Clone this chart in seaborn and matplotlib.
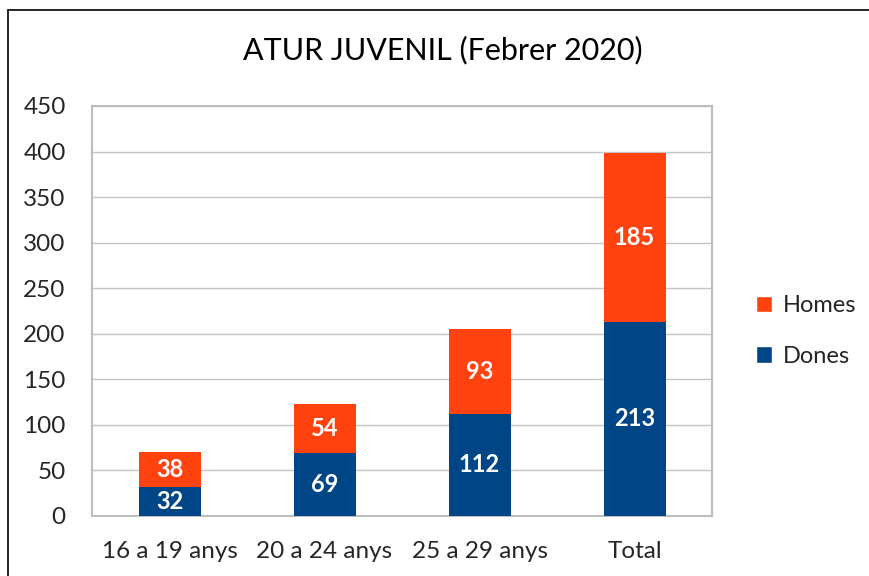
import matplotlib
matplotlib.use("Agg")
import matplotlib.pyplot as plt
import seaborn as sns
import pandas as pd
from matplotlib.patches import Patch
from matplotlib.lines import Line2D

# Youth unemployment, February 2020
categories = ["16 a 19 anys", "20 a 24 anys", "25 a 29 anys", "Total"]
dones = [32, 69, 112, 213]
homes = [38, 54, 93, 185]
yticks = [0, 50, 100, 150, 200, 250, 300, 350, 400, 450]

BLUE = "#004586"
ORANGE = "#ff420e"

sns.set_theme(style="white")
plt.rcParams["font.family"] = ["Lato", "DejaVu Sans"]

df = pd.DataFrame({"cat": categories, "Dones": dones, "Homes": homes})
df["top"] = df["Dones"] + df["Homes"]

fig = plt.figure(figsize=(8.69, 5.76), dpi=100)
ax = fig.add_axes([0.1059, 0.1042, 0.7135, 0.7118])

# stacked bars: full height in orange, women's share in blue on top of it
sns.barplot(data=df, x="cat", y="top", color=ORANGE, width=0.4,
            saturation=1, linewidth=0, ax=ax, zorder=3)
sns.barplot(data=df, x="cat", y="Dones", color=BLUE, width=0.4,
            saturation=1, linewidth=0, ax=ax, zorder=4)

ax.set_ylim(0, 450)
ax.set_xlim(-0.5, 3.5)
ax.set_yticks(yticks)
ax.set_yticklabels([str(v) for v in yticks], fontsize=17.5)
ax.tick_params(axis="x", labelsize=17.5, pad=18, length=0)
ax.tick_params(axis="y", pad=19, length=0)
ax.set_xlabel("")
ax.set_ylabel("")
ax.yaxis.grid(True, color="#c4c4c4", linewidth=1)
ax.set_axisbelow(True)
for s in ax.spines.values():
    s.set_visible(True)
    s.set_color("#bdbdbd")
    s.set_linewidth(1.5)

for i, (d, h) in enumerate(zip(dones, homes)):
    ax.text(i, d / 2, str(d), ha="center", va="center", color="white",
            fontsize=17, fontweight="bold", zorder=5)
    ax.text(i, d + h / 2, str(h), ha="center", va="center", color="white",
            fontsize=17, fontweight="bold", zorder=5)

fig.text(0.509, 0.913, "ATUR JUVENIL (Febrer 2020)", ha="center",
         va="center", fontsize=22, color="black")

handles = [Patch(facecolor=ORANGE, label="Homes"),
           Patch(facecolor=BLUE, label="Dones")]
fig.legend(handles=handles, loc="center left", bbox_to_anchor=(0.845, 0.425),
           frameon=False, fontsize=17, handlelength=0.7, handleheight=0.7,
           handletextpad=0.45, labelspacing=1.25)

# outer frame lines
fig.add_artist(Line2D([0.0092, 0.0092], [0.0, 0.983], transform=fig.transFigure,
                      color="black", linewidth=1.2))
fig.add_artist(Line2D([0.0092, 1.0], [0.983, 0.983], transform=fig.transFigure,
                      color="black", linewidth=1.2))

fig.savefig("out.png", dpi=100, facecolor="white")
